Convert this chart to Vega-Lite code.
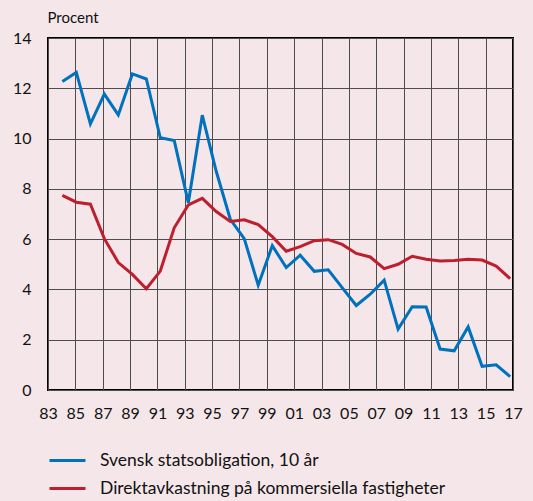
{
  "$schema": "https://vega.github.io/schema/vega-lite/v6.json",
  "autosize": "none",
  "width": 465,
  "height": 352,
  "padding": {"left": 48, "top": 38, "right": 20, "bottom": 111},
  "background": "#f5e7e9",
  "config": {
    "font": "Lato",
    "view": {"stroke": "#000000", "strokeWidth": 2},
    "axis": {"labelFont": "Lato", "titleFont": "Lato", "labelColor": "#111111", "titleColor": "#111111"}
  },
  "data": {
    "values": [
      {"x": 1984.05, "series": "Svensk statsobligation, 10 år", "value": 12.27},
      {"x": 1985.07, "series": "Svensk statsobligation, 10 år", "value": 12.63},
      {"x": 1986.10, "series": "Svensk statsobligation, 10 år", "value": 10.58},
      {"x": 1987.12, "series": "Svensk statsobligation, 10 år", "value": 11.77},
      {"x": 1988.14, "series": "Svensk statsobligation, 10 år", "value": 10.94},
      {"x": 1989.17, "series": "Svensk statsobligation, 10 år", "value": 12.57},
      {"x": 1990.19, "series": "Svensk statsobligation, 10 år", "value": 12.37},
      {"x": 1991.21, "series": "Svensk statsobligation, 10 år", "value": 10.03},
      {"x": 1992.23, "series": "Svensk statsobligation, 10 år", "value": 9.92},
      {"x": 1993.26, "series": "Svensk statsobligation, 10 år", "value": 7.45},
      {"x": 1994.28, "series": "Svensk statsobligation, 10 år", "value": 10.93},
      {"x": 1995.30, "series": "Svensk statsobligation, 10 år", "value": 8.70},
      {"x": 1996.33, "series": "Svensk statsobligation, 10 år", "value": 6.79},
      {"x": 1997.35, "series": "Svensk statsobligation, 10 år", "value": 6.02},
      {"x": 1998.37, "series": "Svensk statsobligation, 10 år", "value": 4.17},
      {"x": 1999.40, "series": "Svensk statsobligation, 10 år", "value": 5.74},
      {"x": 2000.42, "series": "Svensk statsobligation, 10 år", "value": 4.87},
      {"x": 2001.44, "series": "Svensk statsobligation, 10 år", "value": 5.36},
      {"x": 2002.47, "series": "Svensk statsobligation, 10 år", "value": 4.72},
      {"x": 2003.49, "series": "Svensk statsobligation, 10 år", "value": 4.78},
      {"x": 2004.51, "series": "Svensk statsobligation, 10 år", "value": 4.07},
      {"x": 2005.54, "series": "Svensk statsobligation, 10 år", "value": 3.36},
      {"x": 2006.56, "series": "Svensk statsobligation, 10 år", "value": 3.81},
      {"x": 2007.58, "series": "Svensk statsobligation, 10 år", "value": 4.37},
      {"x": 2008.60, "series": "Svensk statsobligation, 10 år", "value": 2.42},
      {"x": 2009.63, "series": "Svensk statsobligation, 10 år", "value": 3.31},
      {"x": 2010.65, "series": "Svensk statsobligation, 10 år", "value": 3.30},
      {"x": 2011.67, "series": "Svensk statsobligation, 10 år", "value": 1.63},
      {"x": 2012.70, "series": "Svensk statsobligation, 10 år", "value": 1.56},
      {"x": 2013.72, "series": "Svensk statsobligation, 10 år", "value": 2.51},
      {"x": 2014.74, "series": "Svensk statsobligation, 10 år", "value": 0.94},
      {"x": 2015.77, "series": "Svensk statsobligation, 10 år", "value": 1.00},
      {"x": 2016.79, "series": "Svensk statsobligation, 10 år", "value": 0.53},
      {"x": 1984.05, "series": "Direktavkastning på kommersiella fastigheter", "value": 7.74},
      {"x": 1985.07, "series": "Direktavkastning på kommersiella fastigheter", "value": 7.47},
      {"x": 1986.10, "series": "Direktavkastning på kommersiella fastigheter", "value": 7.39},
      {"x": 1987.12, "series": "Direktavkastning på kommersiella fastigheter", "value": 6.02},
      {"x": 1988.14, "series": "Direktavkastning på kommersiella fastigheter", "value": 5.07},
      {"x": 1989.17, "series": "Direktavkastning på kommersiella fastigheter", "value": 4.60},
      {"x": 1990.19, "series": "Direktavkastning på kommersiella fastigheter", "value": 4.03},
      {"x": 1991.21, "series": "Direktavkastning på kommersiella fastigheter", "value": 4.73},
      {"x": 1992.23, "series": "Direktavkastning på kommersiella fastigheter", "value": 6.45},
      {"x": 1993.26, "series": "Direktavkastning på kommersiella fastigheter", "value": 7.36},
      {"x": 1994.28, "series": "Direktavkastning på kommersiella fastigheter", "value": 7.62},
      {"x": 1995.30, "series": "Direktavkastning på kommersiella fastigheter", "value": 7.10},
      {"x": 1996.33, "series": "Direktavkastning på kommersiella fastigheter", "value": 6.70},
      {"x": 1997.35, "series": "Direktavkastning på kommersiella fastigheter", "value": 6.77},
      {"x": 1998.37, "series": "Direktavkastning på kommersiella fastigheter", "value": 6.58},
      {"x": 1999.40, "series": "Direktavkastning på kommersiella fastigheter", "value": 6.10},
      {"x": 2000.42, "series": "Direktavkastning på kommersiella fastigheter", "value": 5.52},
      {"x": 2001.44, "series": "Direktavkastning på kommersiella fastigheter", "value": 5.70},
      {"x": 2002.47, "series": "Direktavkastning på kommersiella fastigheter", "value": 5.94},
      {"x": 2003.49, "series": "Direktavkastning på kommersiella fastigheter", "value": 5.98},
      {"x": 2004.51, "series": "Direktavkastning på kommersiella fastigheter", "value": 5.79},
      {"x": 2005.54, "series": "Direktavkastning på kommersiella fastigheter", "value": 5.43},
      {"x": 2006.56, "series": "Direktavkastning på kommersiella fastigheter", "value": 5.29},
      {"x": 2007.58, "series": "Direktavkastning på kommersiella fastigheter", "value": 4.83},
      {"x": 2008.60, "series": "Direktavkastning på kommersiella fastigheter", "value": 5.00},
      {"x": 2009.63, "series": "Direktavkastning på kommersiella fastigheter", "value": 5.32},
      {"x": 2010.65, "series": "Direktavkastning på kommersiella fastigheter", "value": 5.20},
      {"x": 2011.67, "series": "Direktavkastning på kommersiella fastigheter", "value": 5.13},
      {"x": 2012.70, "series": "Direktavkastning på kommersiella fastigheter", "value": 5.15},
      {"x": 2013.72, "series": "Direktavkastning på kommersiella fastigheter", "value": 5.20},
      {"x": 2014.74, "series": "Direktavkastning på kommersiella fastigheter", "value": 5.17},
      {"x": 2015.77, "series": "Direktavkastning på kommersiella fastigheter", "value": 4.93},
      {"x": 2016.79, "series": "Direktavkastning på kommersiella fastigheter", "value": 4.43}
    ]
  },
  "mark": {"type": "line", "strokeWidth": 3, "strokeJoin": "miter"},
  "encoding": {
    "x": {
      "field": "x",
      "type": "quantitative",
      "scale": {"domain": [1983, 2017], "nice": false, "zero": false},
      "axis": {
        "title": null,
        "values": [1983, 1985, 1987, 1989, 1991, 1993, 1995, 1997, 1999, 2001, 2003, 2005, 2007, 2009, 2011, 2013, 2015, 2017],
        "labelExpr": "substring(toString(datum.value), 2)",
        "labelFlush": false,
        "labelOverlap": false,
        "domain": false,
        "ticks": false,
        "labelPadding": 15,
        "labelFontSize": 16,
        "grid": true,
        "gridColor": "#4d4d4d",
        "gridWidth": 1
      }
    },
    "y": {
      "field": "value",
      "type": "quantitative",
      "scale": {"domain": [0, 14], "nice": false, "zero": true},
      "axis": {
        "title": "Procent",
        "titleAngle": 0,
        "titleAlign": "left",
        "titleBaseline": "middle",
        "titleX": -1,
        "titleY": -21,
        "titleFontSize": 15,
        "titleFontWeight": "normal",
        "values": [0, 2, 4, 6, 8, 10, 12, 14],
        "labelFlush": false,
        "labelOverlap": false,
        "domain": false,
        "ticks": false,
        "labelPadding": 17,
        "labelFontSize": 16,
        "grid": true,
        "gridColor": "#4d4d4d",
        "gridWidth": 1
      }
    },
    "color": {
      "field": "series",
      "type": "nominal",
      "sort": ["Svensk statsobligation, 10 år", "Direktavkastning på kommersiella fastigheter"],
      "scale": {
        "domain": ["Svensk statsobligation, 10 år", "Direktavkastning på kommersiella fastigheter"],
        "range": ["#0071bc", "#be1e2d"]
      },
      "legend": {
        "title": null,
        "orient": "none",
        "legendX": 0,
        "legendY": 403,
        "symbolType": "stroke",
        "symbolSize": 1296,
        "symbolStrokeWidth": 3,
        "labelFontSize": 17.5,
        "labelFont": "Lato",
        "labelColor": "#111111",
        "labelOffset": 13,
        "rowPadding": -8,
        "labelLimit": 500
      }
    }
  }
}
